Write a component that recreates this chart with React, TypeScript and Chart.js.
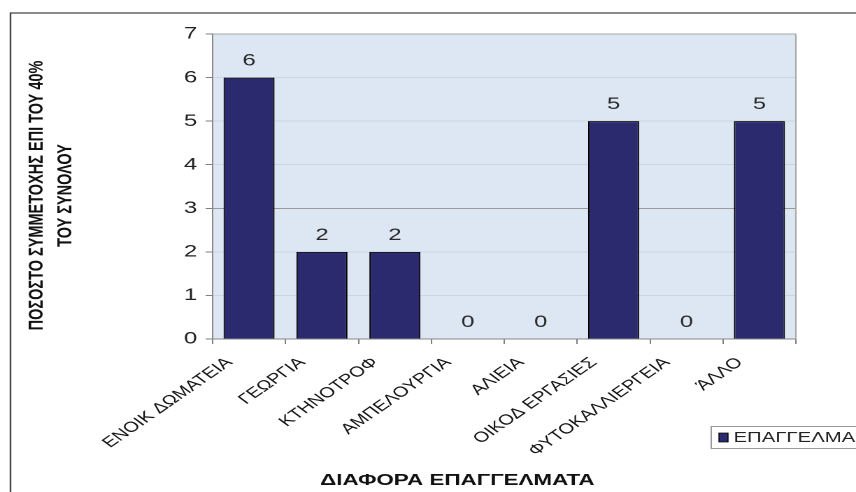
import { useEffect, useRef } from "react";
import { Chart, registerables } from "chart.js";
Chart.register(...registerables);

const categories = [
  "ΕΝΟΙΚ ΔΩΜΑΤΕΙΑ",
  "ΓΕΩΡΓΙΑ",
  "ΚΤΗΝΟΤΡΟΦ",
  "ΑΜΠΕΛΟΥΡΓΙΑ",
  "ΑΛΙΕΙΑ",
  "ΟΙΚΟΔ ΕΡΓΑΣΙΕΣ",
  "ΦΥΤΟΚΑΛΛΙΕΡΓΕΙΑ",
  "ΆΛΛΟ",
];
const values = [6, 2, 2, 0, 0, 5, 0, 5];
const seriesName = "ΕΠΑΓΓΕΛΜΑ";
const yMin = 0;
const yMax = 7;
const yStep = 1;
const yTitleLines = ["ΠΟΣΟΣΤΟ ΣΥΜΜΕΤΟΧΗΣ ΕΠΙ ΤΟΥ 40%", "ΤΟΥ ΣΥΝΟΛΟΥ"];
const xTitle = "ΔΙΑΦΟΡΑ ΕΠΑΓΓΕΛΜΑΤΑ";

const FONT = "Arial, 'Liberation Sans', sans-serif";
const VIEW_W = 856;
const VIEW_H = 492;
const INNER_W = 612;
const STRETCH = VIEW_W / INNER_W;
const BAR_COLOR = "#2c2a6e";

export default function App() {
  const canvasRef = useRef<HTMLCanvasElement | null>(null);

  useEffect(() => {
    document.body.style.margin = "0";
    const canvas = canvasRef.current;
    if (!canvas) return;

    const decor = {
      id: "decor",
      beforeDraw(chart: any) {
        const { ctx, chartArea } = chart;
        ctx.save();
        ctx.fillStyle = "#ffffff";
        ctx.fillRect(0, 0, chart.width, chart.height);
        ctx.fillStyle = "#dde6f3";
        ctx.fillRect(
          chartArea.left,
          chartArea.top,
          chartArea.right - chartArea.left,
          chartArea.bottom - chartArea.top
        );
        ctx.restore();
      },
      afterDatasetsDraw(chart: any) {
        const { ctx, chartArea } = chart;
        ctx.save();
        // right border of plot area
        ctx.strokeStyle = "#a8a8a8";
        ctx.lineWidth = 1;
        ctx.beginPath();
        ctx.moveTo(chartArea.right, chartArea.top);
        ctx.lineTo(chartArea.right, chartArea.bottom);
        ctx.stroke();
        // data labels
        const meta = chart.getDatasetMeta(0);
        ctx.font = `17px ${FONT}`;
        ctx.fillStyle = "#2a2a2a";
        ctx.textAlign = "center";
        ctx.textBaseline = "alphabetic";
        meta.data.forEach((el: any, i: number) => {
          ctx.fillText(String(values[i]), el.x, el.y - 12);
        });
        ctx.restore();
      },
      afterDraw(chart: any) {
        const { ctx, chartArea } = chart;
        ctx.save();
        // y title
        ctx.fillStyle = "#111111";
        ctx.font = `bold 14.5px ${FONT}`;
        ctx.textAlign = "center";
        ctx.textBaseline = "middle";
        ctx.translate(26.5, (chartArea.top + chartArea.bottom) / 2 + 9);
        ctx.rotate(-Math.PI / 2);
        yTitleLines.forEach((line, i) => ctx.fillText(line, 0, i * 20.5));
        ctx.restore();

        ctx.save();
        // x title
        ctx.fillStyle = "#111111";
        ctx.font = `bold 16px ${FONT}`;
        ctx.textAlign = "center";
        ctx.textBaseline = "alphabetic";
        ctx.fillText(xTitle, 327, 485);

        // legend
        ctx.strokeStyle = "#9a9a9a";
        ctx.lineWidth = 1;
        ctx.strokeRect(508.5, 426.5, 120, 22);
        ctx.fillStyle = BAR_COLOR;
        ctx.fillRect(514, 433, 6.5, 9);
        ctx.strokeStyle = "#000000";
        ctx.lineWidth = 0.7;
        ctx.strokeRect(514, 433, 6.5, 9);
        ctx.fillStyle = "#222222";
        ctx.font = `14.5px ${FONT}`;
        ctx.textAlign = "left";
        ctx.textBaseline = "middle";
        ctx.fillText(seriesName, 524.5, 438);

        // outer frame
        ctx.strokeStyle = "#444444";
        ctx.lineWidth = 1.2;
        ctx.beginPath();
        ctx.moveTo(7.5, chart.height + 2);
        ctx.lineTo(7.5, 13);
        ctx.lineTo(chart.width + 2, 13);
        ctx.stroke();
        ctx.restore();
      },
    };

    const chart = new Chart(canvas, {
      type: "bar",
      data: {
        labels: categories,
        datasets: [
          {
            label: seriesName,
            data: values,
            backgroundColor: BAR_COLOR,
            borderColor: "#000000",
            borderWidth: 1,
            barPercentage: 0.7,
            categoryPercentage: 1,
          },
        ],
      },
      options: {
        responsive: false,
        animation: false,
        devicePixelRatio: 2,
        layout: { padding: { top: 34, right: 43, left: 0, bottom: 0 } },
        plugins: {
          legend: { display: false },
          tooltip: { enabled: false },
        },
        scales: {
          x: {
            afterFit(s: any) {
              s.height = 153;
              s.paddingLeft = 0;
              s.paddingRight = 0;
            },
            ticks: {
              autoSkip: false,
              minRotation: 44,
              maxRotation: 44,
              labelOffset: -14,
              padding: 10,
              color: "#151515",
              font: { family: FONT, size: 14.5 },
            },
            grid: {
              offset: true,
              drawOnChartArea: false,
              tickLength: 5,
              tickColor: "#808080",
            },
            border: { color: "#888888", width: 1 },
          },
          y: {
            min: yMin,
            max: yMax,
            afterFit(s: any) {
              s.width = 152;
            },
            ticks: {
              stepSize: yStep,
              padding: 6,
              color: "#222222",
              font: { family: FONT, size: 17 },
            },
            grid: {
              color: (c: any) =>
                c.tick && c.tick.value === 3
                  ? "#9a9a9a"
                  : c.tick && c.tick.value === 7
                  ? "#a8a8a8"
                  : "rgba(150,160,175,0.25)",
              tickLength: 5,
              tickColor: "#808080",
            },
            border: { color: "#888888", width: 1 },
          },
        },
      },
      plugins: [decor],
    });

    return () => chart.destroy();
  }, []);

  return (
    <div
      style={{
        width: VIEW_W,
        height: VIEW_H,
        overflow: "hidden",
        position: "relative",
        background: "#ffffff",
      }}
    >
      <div
        style={{
          width: INNER_W,
          height: VIEW_H,
          transform: `scaleX(${STRETCH})`,
          transformOrigin: "0 0",
        }}
      >
        <canvas ref={canvasRef} width={INNER_W} height={VIEW_H} />
      </div>
    </div>
  );
}
